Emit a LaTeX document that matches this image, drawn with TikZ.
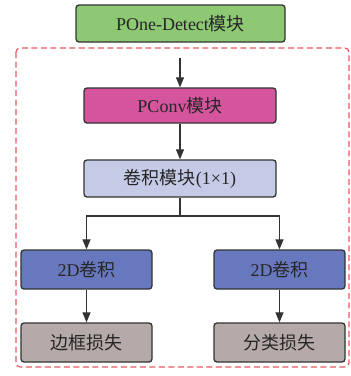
\documentclass[tikz,border=0pt]{standalone}
\usepackage{fontspec}
\setmainfont{Liberation Serif}
\newfontfamily\cjk{Noto Sans CJK SC}
\usetikzlibrary{arrows.meta}
\definecolor{cgreen}{HTML}{8DC873}
\definecolor{cmag}{HTML}{D4559E}
\definecolor{clav}{HTML}{C5CAE6}
\definecolor{cblue}{HTML}{6878BE}
\definecolor{cgray}{HTML}{B5AAA8}
\definecolor{cred}{HTML}{E8575E}
\definecolor{cline}{HTML}{333333}
\tikzset{
  box/.style={draw=cline, line width=1.3pt, rounded corners=3pt, inner sep=0pt, font=\fontsize{18}{20}\selectfont, text=black!85},
  arr/.style={draw=cline, line width=1.2pt, -{Triangle[length=10pt,width=8pt]}},
}
\begin{document}
\begin{tikzpicture}[x=1pt,y=-1pt]
\useasboundingbox (0,0) rectangle (351,376);
\draw[cred, line width=1.2pt, dash pattern=on 6pt off 3.5pt, rounded corners=4pt] (16,48) rectangle (349,367);
\node[box, fill=cgreen, minimum width=209pt, minimum height=37pt] (top) at (180.5,23.5) {POne-Detect{\cjk 模块}};
\coordinate (s) at (180,58);
\node[box, fill=cmag, minimum width=192pt, minimum height=35pt] (pconv) at (180,105.5) {PConv{\cjk 模块}};
\node[box, fill=clav, minimum width=192pt, minimum height=37pt] (conv) at (180,178.5) {{\cjk 卷积模块}(1×1)};
\node[box, fill=cblue, minimum width=131pt, minimum height=39pt] (l2d) at (86.5,269.5) {2D{\cjk 卷积}};
\node[box, fill=cblue, minimum width=131pt, minimum height=39pt] (r2d) at (279.5,269.5) {2D{\cjk 卷积}};
\node[box, fill=cgray, minimum width=131pt, minimum height=39pt] (lloss) at (86.5,342.5) {\cjk 边框损失};
\node[box, fill=cgray, minimum width=131pt, minimum height=39pt] (rloss) at (279.5,342.5) {\cjk 分类损失};
\draw[arr] (s) -- (pconv.north);
\draw[arr] (pconv.south) -- (conv.north);
\coordinate (j) at (180,216);
\draw[draw=cline, line width=1.2pt] (conv.south) -- (j);
\draw[arr] (j) -| (l2d.north);
\draw[arr] (j) -| (r2d.north);
\draw[arr] (l2d.south) -- (lloss.north);
\draw[arr] (r2d.south) -- (rloss.north);
\end{tikzpicture}
\end{document}
